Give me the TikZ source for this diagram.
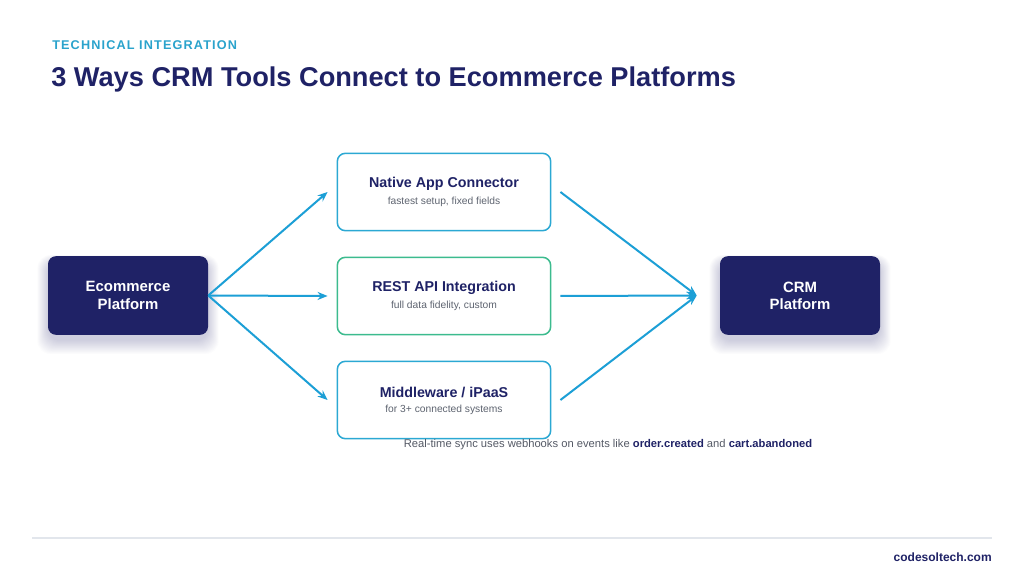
\documentclass[tikz,border=0pt]{standalone}
\usepackage{fontspec}
\setmainfont{Liberation Sans}
\usetikzlibrary{arrows.meta}
\definecolor{navy}{HTML}{1F2266}
\definecolor{kicker}{HTML}{2AA3CC}
\definecolor{arrowc}{HTML}{1C9FD6}
\definecolor{boxcyan}{HTML}{2BA8D3}
\definecolor{boxgreen}{HTML}{3CBB8E}
\definecolor{subgray}{HTML}{5E6470}
\definecolor{capgray}{HTML}{555A66}
\definecolor{rulegray}{HTML}{E2E6EC}
\tikzset{
  darkbox/.style={fill=navy, rounded corners=6pt, minimum width=120pt, minimum height=59pt,
    text=white, font=\bfseries\fontsize{11.2}{12.9}\selectfont, align=center, inner sep=0pt},
  optbox/.style={draw=#1, line width=1.15pt, fill=white, rounded corners=6pt,
    minimum width=160pt, minimum height=58pt, inner sep=0pt},
  opttitle/.style={text=navy, font=\bfseries\fontsize{10.7}{12}\selectfont, inner sep=0pt},
  optsub/.style={text=subgray, font=\fontsize{7.7}{9}\selectfont, inner sep=0pt},
  arr/.style={draw=arrowc, line width=1.5pt, -{Stealth[length=7.5pt,width=6pt]}},
  shadowlayer/.style={fill=navy, opacity=0.011, rounded corners=10pt},
}
\newcommand{\softshadow}[2]{%
  \foreach \k in {1,...,16}{
    \fill[shadowlayer]
      ([xshift=-\k*0.5pt, yshift=-4pt+\k*0.3pt]#1) rectangle
      ([xshift=\k*0.5pt, yshift=-4pt-\k*0.65pt]#2);
  }}
\begin{document}
\begin{tikzpicture}[x=0.75pt,y=-0.75pt]
\useasboundingbox[fill=white] (0,0) rectangle (1024,584);

% header
\node[anchor=base west, inner sep=0pt, text=kicker,
  font=\bfseries\fontsize{9.5}{11}\selectfont\addfontfeatures{LetterSpace=9}] (kick) at (52,50) {TECHNICAL INTEGRATION};
\node[anchor=base west, inner sep=0pt, text=navy,
  font=\bfseries\fontsize{20.4}{24}\selectfont] (title) at (51,87) {3 Ways CRM Tools Connect to Ecommerce Platforms};

% soft shadows under the dark boxes
\path (48,256) coordinate (ecoNW) (208,335) coordinate (ecoSE)
      (720,256) coordinate (crmNW) (880,335) coordinate (crmSE);
\softshadow{ecoNW}{ecoSE}
\softshadow{crmNW}{crmSE}

% main boxes
\node[darkbox] (eco) at (128,295.5) {Ecommerce\\Platform};
\node[darkbox] (crm) at (800,295.5) {CRM\\Platform};

% option boxes
\node[optbox=boxcyan] (n1) at (444,192) {};
\node[optbox=boxgreen] (n2) at (444,296) {};
\node[optbox=boxcyan] (n3) at (444,400) {};

\node[opttitle] (t1) at (444,184) {Native App Connector};
\node[optsub] (s1) at (444,202) {fastest setup, fixed fields};
\node[opttitle] (t2) at (444,288) {REST API Integration};
\node[optsub] (s2) at (444,306) {full data fidelity, custom};
\node[opttitle] (t3) at (444,392) {Middleware / iPaaS};
\node[optsub] (s3) at (444,410) {for 3+ connected systems};

% connector end points
\coordinate (in1) at ([xshift=-6.75pt]n1.west);
\coordinate (in2) at ([xshift=-6.75pt]n2.west);
\coordinate (in3) at ([xshift=-6.75pt]n3.west);
\coordinate (out1) at ([xshift=6.75pt]n1.east);
\coordinate (out2) at ([xshift=6.75pt]n2.east);
\coordinate (out3) at ([xshift=6.75pt]n3.east);
\coordinate (hub) at ([xshift=-17.25pt]crm.west);

% arrows
\draw[arr] (eco.east) -- (in1);
\draw[arr] (eco.east) -- (in2);
\draw[arr] (eco.east) -- (in3);
\draw[arr] (out1) -- (hub);
\draw[arr] (out2) -- (hub);
\draw[arr] (out3) -- (hub);

% caption
\node[inner sep=0pt, text=capgray, font=\fontsize{8.4}{10}\selectfont] (cap) at (608,445)
  {Real-time sync uses webhooks on events like \textcolor{navy}{\bfseries order.created} and \textcolor{navy}{\bfseries cart.abandoned}};

% footer
\coordinate (rl) at (32,538);
\coordinate (rr) at (992,538);
\draw[rulegray, line width=1pt] (rl) -- (rr);
\node[anchor=base east, inner sep=0pt, text=navy, font=\bfseries\fontsize{9}{11}\selectfont] (site) at (992,561) {codesoltech.com};
\end{tikzpicture}
\end{document}
